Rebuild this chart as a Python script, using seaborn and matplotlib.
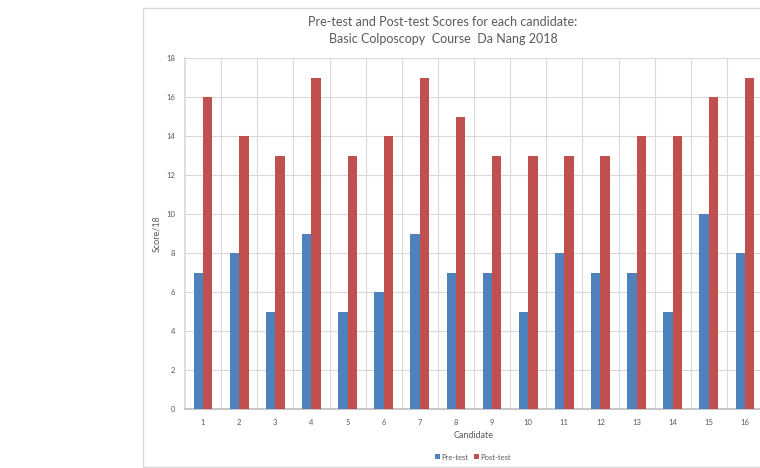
import matplotlib
matplotlib.use("Agg")
import matplotlib.pyplot as plt
import seaborn as sns
import pandas as pd
from matplotlib.patches import Rectangle, Patch

candidates = [str(i) for i in range(1, 17)]
pre_test = [7, 8, 5, 9, 5, 6, 9, 7, 7, 5, 8, 7, 7, 5, 10, 8]
post_test = [16, 14, 13, 17, 13, 14, 17, 15, 13, 13, 13, 13, 14, 14, 16, 17]
series_names = ["Pre-test", "Post-test"]
y_ticks = list(range(0, 19, 2))

df = pd.DataFrame({
    "Candidate": candidates * 2,
    "Score": pre_test + post_test,
    "Series": [series_names[0]] * 16 + [series_names[1]] * 16,
})

sns.set_theme(style="white")
plt.rcParams['font.family'] = ['Lato', 'DejaVu Sans']

W, H = 760, 468
fig = plt.figure(figsize=(7.6, 4.68), dpi=100)
fig.patch.set_facecolor("white")

# chart frame
fig.patches.append(Rectangle((143 / W, 1 - 467 / H), 700 / W, 459 / H,
                             transform=fig.transFigure, fill=False,
                             edgecolor="#D9D9D9", linewidth=1))

ax = fig.add_axes([185 / W, 1 - 409 / H, (763 - 185) / W, (409 - 58) / H])
palette = {"Pre-test": "#4F81BD", "Post-test": "#C0504D"}
sns.barplot(data=df, x="Candidate", y="Score", hue="Series", palette=palette,
            width=0.52, saturation=1, ax=ax, legend=False, zorder=3, linewidth=0)

ax.set_ylim(0, 18)
ax.set_xlim(-0.5, 15.5)
ax.set_yticks(y_ticks)
ax.set_yticklabels([str(v) for v in y_ticks])
ax.grid(axis="y", color="#D9D9D9", linewidth=0.8, zorder=0)
for b in range(16):
    ax.axvline(b + 0.5, color="#D9D9D9", linewidth=0.8, zorder=0)
for s in ["top", "right"]:
    ax.spines[s].set_visible(False)
ax.spines["left"].set_color("#D9D9D9")
ax.spines["bottom"].set_color("#BFBFBF")
ax.tick_params(axis="y", length=3, color="#D9D9D9", labelsize=5.5, labelcolor="#595959", pad=4)
ax.tick_params(axis="x", length=0, labelsize=5.5, labelcolor="#595959", pad=7)
ax.set_xlabel("Candidate", fontsize=6.5, color="#595959", labelpad=4)
ax.set_ylabel("Score/18", fontsize=6.5, color="#595959", labelpad=4)

fig.text(443 / W, 1 - 22 / H, "Pre-test and Post-test Scores for each candidate:",
         ha="center", va="center", fontsize=9, color="#595959")
fig.text(443 / W, 1 - 39 / H, "Basic Colposcopy  Course  Da Nang 2018",
         ha="center", va="center", fontsize=9, color="#595959")

# legend
handles = [Patch(facecolor=palette[n], edgecolor="none", label=n) for n in series_names]
fig.legend(handles=handles, loc="center", bbox_to_anchor=(473 / W, 1 - 457 / H),
           ncol=2, frameon=False, fontsize=5.5, handlelength=0.6, handleheight=0.6,
           handletextpad=0.2, columnspacing=0.8, labelcolor="#595959")

fig.savefig("out.png", dpi=100)
